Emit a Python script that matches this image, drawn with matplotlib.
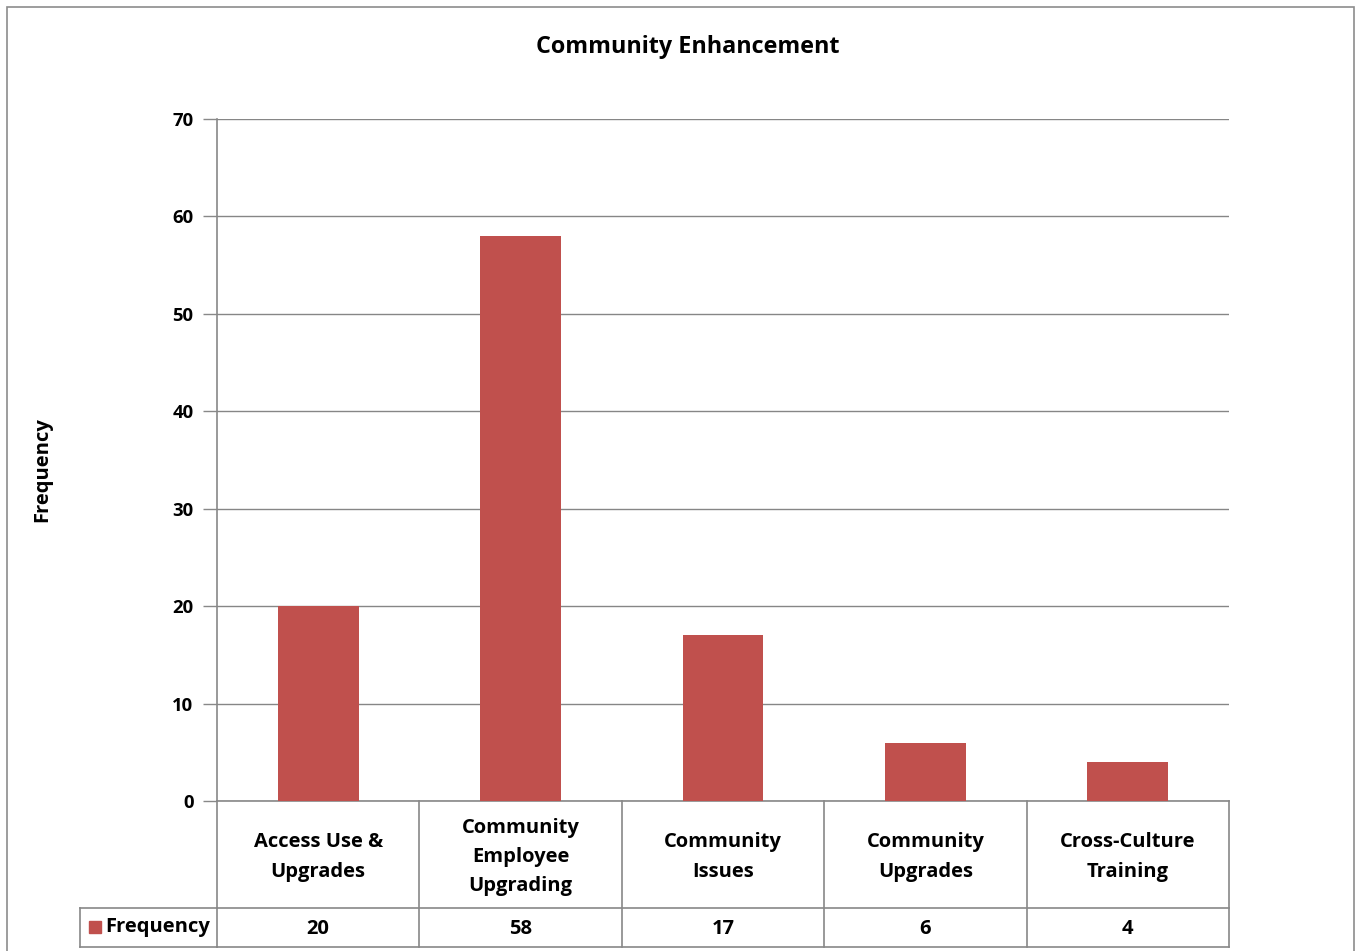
import matplotlib
matplotlib.use("Agg")
import matplotlib.pyplot as plt
from matplotlib.transforms import blended_transform_factory
from matplotlib.patches import Rectangle
from matplotlib.lines import Line2D

categories = ["Access Use &\nUpgrades", "Community\nEmployee\nUpgrading",
              "Community\nIssues", "Community\nUpgrades", "Cross-Culture\nTraining"]
values = [20, 58, 17, 6, 4]
series_name = "Frequency"
title = "Community Enhancement"
yticks = [0, 10, 20, 30, 40, 50, 60, 70]

plt.rcParams['font.family'] = ['Open Sans', 'DejaVu Sans']
W, H = 1361, 951
fig = plt.figure(figsize=(W / 100, H / 100), dpi=100)

def fx(px):
    return px / W

def fy(py):
    return 1 - py / H

bar_color = "#C0504D"
grid_color = "#868686"
line_color = "#888888"

ax = fig.add_axes([fx(217), fy(801), fx(1229) - fx(217), fy(119) - fy(801)])
x = list(range(len(values)))
ax.bar(x, values, width=0.4, color=bar_color, zorder=3)
ax.set_xlim(-0.5, len(values) - 0.5)
ax.set_ylim(0, 70)
ax.set_yticks(yticks)
ax.set_yticklabels([str(t) for t in yticks], fontsize=13.3, fontweight='bold')
ax.tick_params(axis='y', length=10, width=1, color=line_color, pad=7)
ax.set_xticks([])
ax.yaxis.grid(True, color=grid_color, linewidth=1, zorder=0)
for s in ['top', 'right']:
    ax.spines[s].set_visible(False)
for s in ['left', 'bottom']:
    ax.spines[s].set_color(line_color)
    ax.spines[s].set_linewidth(1.2)

# Outer chart frame
fig.patches.append(Rectangle((fx(7), fy(960)), fx(1354) - fx(7), fy(7) - fy(960),
                             transform=fig.transFigure, fill=False,
                             edgecolor="#8c8c8c", linewidth=1.2))

fig.text(fx(688), fy(47), title, ha='center', va='center', fontsize=16.8, fontweight='bold')
fig.text(fx(42), fy(470), series_name, ha='center', va='center', rotation=90,
         fontsize=14.5, fontweight='bold')

# Data table
tr = blended_transform_factory(ax.transData, fig.transFigure)
y_top, y_mid, y_bot = fy(801), fy(908), fy(947)
n = len(values)
for i in range(n + 1):
    xv = i - 0.5
    fig.add_artist(Line2D([xv, xv], [y_bot, y_top], transform=tr, color=line_color, linewidth=1.2))
fig.add_artist(Line2D([-0.5, n - 0.5], [y_mid, y_mid], transform=tr, color=line_color, linewidth=1.2))
fig.add_artist(Line2D([-0.5, n - 0.5], [y_bot, y_bot], transform=tr, color=line_color, linewidth=1.2))
# legend cell
fig.add_artist(Line2D([fx(80), fx(217)], [y_mid, y_mid], transform=fig.transFigure, color=line_color, linewidth=1.2))
fig.add_artist(Line2D([fx(80), fx(217)], [y_bot, y_bot], transform=fig.transFigure, color=line_color, linewidth=1.2))
fig.add_artist(Line2D([fx(80), fx(80)], [y_bot, y_mid], transform=fig.transFigure, color=line_color, linewidth=1.2))

for i, (c, v) in enumerate(zip(categories, values)):
    fig.text(i, fy(857), c, transform=tr, ha='center', va='center',
             fontsize=14.5, fontweight='bold', linespacing=1.62)
    fig.text(i, fy(929), str(v), transform=tr, ha='center', va='center',
             fontsize=14.5, fontweight='bold')

fig.patches.append(Rectangle((fx(89), fy(933)), fx(101) - fx(89), fy(921) - fy(933),
                             transform=fig.transFigure, color=bar_color))
fig.text(fx(105), fy(927), series_name, ha='left', va='center', fontsize=14.5, fontweight='bold')

fig.savefig("out.png", dpi=100)
